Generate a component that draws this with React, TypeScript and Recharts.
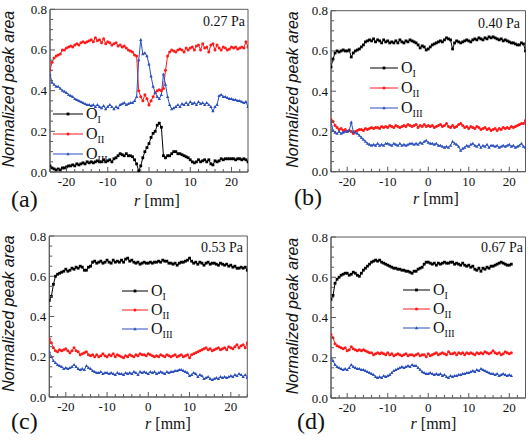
import React from 'react';
import { LineChart, Line, XAxis, YAxis, ReferenceArea } from 'recharts';

// r positions [mm]
const R = [
  -24, -23.5, -23, -22.5, -22, -21.5, -21, -20.5, -20, -19.5,
  -19, -18.5, -18, -17.5, -17, -16.5, -16, -15.5, -15, -14.5,
  -14, -13.5, -13, -12.5, -12, -11.5, -11, -10.5, -10, -9.5,
  -9, -8.5, -8, -7.5, -7, -6.5, -6, -5.5, -5, -4.5,
  -4, -3.5, -3, -2.5, -2, -1.5, -1, -0.5, 0, 0.5,
  1, 1.5, 2, 2.5, 3, 3.5, 4, 4.5, 5, 5.5,
  6, 6.5, 7, 7.5, 8, 8.5, 9, 9.5, 10, 10.5,
  11, 11.5, 12, 12.5, 13, 13.5, 14, 14.5, 15, 15.5,
  16, 16.5, 17, 17.5, 18, 18.5, 19, 19.5, 20, 20.5,
  21, 21.5, 22, 22.5, 23, 23.5, 24,
];
const R_D = R.slice(0, 90);

const X_TICKS = [-24, -22, -20, -18, -16, -14, -12, -10, -8, -6, -4, -2, 0, 2, 4, 6, 8, 10, 12, 14, 16, 18, 20, 22, 24];
const Y_TICKS = [0, 0.05, 0.1, 0.15, 0.2, 0.25, 0.3, 0.35, 0.4, 0.45, 0.5, 0.55, 0.6, 0.65, 0.7, 0.75, 0.8];

// (a) 0.27 Pa
const A_O1 = [
  0.03, 0.02, 0.015, 0.01, 0.015, 0.01, 0.02, 0.02, 0.025, 0.03,
  0.03, 0.035, 0.03, 0.04, 0.035, 0.04, 0.045, 0.04, 0.05, 0.045,
  0.05, 0.045, 0.05, 0.055, 0.05, 0.05, 0.06, 0.05, 0.055, 0.06,
  0.05, 0.065, 0.07, 0.08, 0.09, 0.085, 0.08, 0.09, 0.08, 0.08,
  0.075, 0.06, 0.04, 0.005, 0.03, 0.07, 0.10, 0.12, 0.14, 0.17,
  0.19, 0.20, 0.23, 0.24, 0.22, 0.08, 0.07, 0.08, 0.08, 0.09,
  0.10, 0.10, 0.09, 0.09, 0.085, 0.08, 0.075, 0.07, 0.06, 0.05,
  0.045, 0.05, 0.06, 0.05, 0.055, 0.06, 0.05, 0.06, 0.04, 0.035,
  0.055, 0.05, 0.055, 0.065, 0.06, 0.065, 0.065, 0.065, 0.065, 0.065,
  0.06, 0.065, 0.065, 0.06, 0.065, 0.06, 0.05,
];
const A_O2 = [
  0.50, 0.54, 0.56, 0.57, 0.575, 0.58, 0.60, 0.60, 0.61, 0.615,
  0.62, 0.615, 0.625, 0.63, 0.625, 0.635, 0.64, 0.635, 0.64, 0.645,
  0.65, 0.64, 0.66, 0.645, 0.65, 0.635, 0.655, 0.63, 0.64, 0.635,
  0.625, 0.63, 0.635, 0.62, 0.625, 0.615, 0.62, 0.61, 0.60, 0.595,
  0.59, 0.575, 0.57, 0.40, 0.37, 0.35, 0.38, 0.36, 0.33, 0.35,
  0.37, 0.39, 0.40, 0.405, 0.40, 0.41, 0.50, 0.57, 0.59, 0.60,
  0.595, 0.59, 0.60, 0.605, 0.60, 0.59, 0.61, 0.60, 0.61, 0.615,
  0.60, 0.62, 0.625, 0.60, 0.63, 0.61, 0.615, 0.59, 0.625, 0.63,
  0.60, 0.625, 0.61, 0.60, 0.615, 0.61, 0.60, 0.605, 0.615, 0.61,
  0.615, 0.605, 0.61, 0.615, 0.61, 0.64, 0.615,
];
const A_O3 = [
  0.48, 0.44, 0.43, 0.42, 0.42, 0.41, 0.40, 0.395, 0.39, 0.38,
  0.375, 0.37, 0.36, 0.355, 0.35, 0.345, 0.34, 0.335, 0.33, 0.33,
  0.325, 0.33, 0.32, 0.33, 0.32, 0.315, 0.325, 0.31, 0.32, 0.33,
  0.32, 0.31, 0.32, 0.315, 0.33, 0.335, 0.34, 0.33, 0.335, 0.34,
  0.34, 0.35, 0.37, 0.55, 0.65, 0.58, 0.585, 0.57, 0.53, 0.47,
  0.42, 0.39, 0.37, 0.36, 0.38, 0.48, 0.43, 0.37, 0.33, 0.31,
  0.315, 0.32, 0.33, 0.32, 0.335, 0.33, 0.34, 0.33, 0.345, 0.335,
  0.34, 0.33, 0.345, 0.335, 0.34, 0.33, 0.34, 0.33, 0.32, 0.30,
  0.32, 0.33, 0.375, 0.38, 0.37, 0.37, 0.365, 0.36, 0.36, 0.355,
  0.355, 0.35, 0.35, 0.345, 0.34, 0.345, 0.32,
];

// (b) 0.40 Pa
const B_O1 = [
  0.52, 0.56, 0.59, 0.60, 0.595, 0.60, 0.605, 0.60, 0.60, 0.605,
  0.57, 0.59, 0.60, 0.605, 0.61, 0.62, 0.63, 0.645, 0.65, 0.655,
  0.65, 0.66, 0.645, 0.655, 0.65, 0.64, 0.655, 0.645, 0.65, 0.64,
  0.645, 0.64, 0.65, 0.64, 0.655, 0.645, 0.64, 0.65, 0.645, 0.655,
  0.65, 0.645, 0.64, 0.63, 0.615, 0.625, 0.62, 0.605, 0.61, 0.62,
  0.63, 0.635, 0.64, 0.645, 0.65, 0.645, 0.655, 0.665, 0.66, 0.655,
  0.61, 0.64, 0.65, 0.645, 0.64, 0.645, 0.65, 0.655, 0.65, 0.645,
  0.655, 0.66, 0.655, 0.665, 0.66, 0.655, 0.665, 0.66, 0.67, 0.665,
  0.67, 0.665, 0.66, 0.655, 0.66, 0.65, 0.655, 0.65, 0.645, 0.64,
  0.64, 0.635, 0.63, 0.63, 0.64, 0.635, 0.60,
];
const B_O2 = [
  0.26, 0.25, 0.23, 0.22, 0.21, 0.215, 0.205, 0.21, 0.20, 0.205,
  0.20, 0.19, 0.20, 0.205, 0.21, 0.21, 0.205, 0.215, 0.21, 0.215,
  0.22, 0.215, 0.22, 0.22, 0.215, 0.225, 0.22, 0.225, 0.22, 0.23,
  0.225, 0.22, 0.23, 0.225, 0.22, 0.225, 0.23, 0.225, 0.235, 0.23,
  0.225, 0.23, 0.235, 0.22, 0.23, 0.225, 0.235, 0.225, 0.23, 0.225,
  0.23, 0.22, 0.225, 0.23, 0.235, 0.225, 0.23, 0.24, 0.225, 0.22,
  0.23, 0.22, 0.225, 0.235, 0.24, 0.23, 0.22, 0.225, 0.215, 0.225,
  0.22, 0.215, 0.225, 0.22, 0.21, 0.215, 0.22, 0.21, 0.215, 0.205,
  0.21, 0.215, 0.205, 0.215, 0.21, 0.22, 0.215, 0.22, 0.215, 0.225,
  0.22, 0.225, 0.23, 0.235, 0.24, 0.24, 0.255,
];
const B_O3 = [
  0.25, 0.205, 0.195, 0.19, 0.20, 0.19, 0.195, 0.20, 0.20, 0.205,
  0.245, 0.20, 0.195, 0.19, 0.18, 0.17, 0.16, 0.15, 0.14, 0.135,
  0.13, 0.135, 0.13, 0.14, 0.13, 0.135, 0.13, 0.14, 0.14, 0.135,
  0.13, 0.14, 0.135, 0.13, 0.14, 0.13, 0.135, 0.13, 0.135, 0.14,
  0.14, 0.135, 0.14, 0.135, 0.145, 0.14, 0.15, 0.155, 0.145, 0.14,
  0.14, 0.135, 0.14, 0.13, 0.13, 0.125, 0.12, 0.125, 0.12, 0.13,
  0.15, 0.14, 0.135, 0.125, 0.105, 0.115, 0.12, 0.13, 0.125, 0.135,
  0.14, 0.13, 0.125, 0.135, 0.12, 0.13, 0.125, 0.135, 0.12, 0.13,
  0.13, 0.125, 0.13, 0.12, 0.125, 0.13, 0.125, 0.13, 0.135, 0.125,
  0.13, 0.12, 0.125, 0.13, 0.14, 0.125, 0.12,
];

// (c) 0.53 Pa
const C_O1 = [
  0.48, 0.50, 0.56, 0.60, 0.61, 0.615, 0.62, 0.625, 0.635, 0.625,
  0.63, 0.64, 0.635, 0.645, 0.64, 0.65, 0.645, 0.63, 0.63, 0.645,
  0.65, 0.67, 0.675, 0.665, 0.67, 0.675, 0.665, 0.67, 0.68, 0.67,
  0.665, 0.68, 0.67, 0.675, 0.67, 0.68, 0.67, 0.685, 0.69, 0.675,
  0.68, 0.67, 0.665, 0.67, 0.66, 0.665, 0.67, 0.665, 0.665, 0.67,
  0.665, 0.67, 0.67, 0.675, 0.67, 0.68, 0.675, 0.675, 0.665, 0.665,
  0.66, 0.665, 0.655, 0.665, 0.67, 0.67, 0.675, 0.68, 0.69, 0.675,
  0.665, 0.67, 0.66, 0.67, 0.665, 0.655, 0.665, 0.67, 0.66, 0.665,
  0.665, 0.66, 0.655, 0.665, 0.66, 0.655, 0.66, 0.65, 0.655, 0.645,
  0.65, 0.64, 0.64, 0.645, 0.64, 0.645, 0.63,
];
const C_O2 = [
  0.29, 0.27, 0.245, 0.23, 0.225, 0.235, 0.23, 0.235, 0.24, 0.23,
  0.22, 0.23, 0.245, 0.23, 0.225, 0.21, 0.215, 0.22, 0.225, 0.21,
  0.205, 0.21, 0.20, 0.21, 0.20, 0.205, 0.215, 0.205, 0.20, 0.21,
  0.205, 0.215, 0.20, 0.21, 0.205, 0.20, 0.195, 0.205, 0.20, 0.21,
  0.205, 0.20, 0.21, 0.205, 0.215, 0.21, 0.21, 0.205, 0.215, 0.21,
  0.205, 0.20, 0.205, 0.20, 0.21, 0.205, 0.20, 0.21, 0.205, 0.20,
  0.205, 0.21, 0.20, 0.205, 0.21, 0.20, 0.205, 0.21, 0.195, 0.21,
  0.215, 0.22, 0.225, 0.23, 0.235, 0.24, 0.245, 0.235, 0.24, 0.23,
  0.235, 0.24, 0.245, 0.235, 0.24, 0.245, 0.235, 0.25, 0.245, 0.24,
  0.25, 0.26, 0.245, 0.255, 0.26, 0.245, 0.27,
];
const C_O3 = [
  0.225, 0.20, 0.18, 0.17, 0.16, 0.155, 0.15, 0.14, 0.145, 0.14,
  0.145, 0.15, 0.16, 0.15, 0.14, 0.135, 0.14, 0.135, 0.155, 0.145,
  0.14, 0.13, 0.125, 0.12, 0.12, 0.125, 0.115, 0.12, 0.12, 0.115,
  0.12, 0.115, 0.11, 0.12, 0.115, 0.115, 0.11, 0.12, 0.115, 0.12,
  0.115, 0.125, 0.12, 0.11, 0.125, 0.12, 0.125, 0.12, 0.115, 0.125,
  0.12, 0.125, 0.115, 0.12, 0.125, 0.12, 0.115, 0.125, 0.12, 0.125,
  0.125, 0.13, 0.13, 0.135, 0.135, 0.13, 0.125, 0.12, 0.105, 0.11,
  0.12, 0.115, 0.10, 0.11, 0.105, 0.09, 0.095, 0.10, 0.09, 0.085,
  0.09, 0.095, 0.09, 0.10, 0.095, 0.10, 0.095, 0.10, 0.105, 0.10,
  0.11, 0.105, 0.115, 0.11, 0.10, 0.11, 0.095,
];

// (d) 0.67 Pa
const D_O1 = [
  0.49, 0.51, 0.57, 0.59, 0.60, 0.61, 0.615, 0.62, 0.62, 0.61,
  0.615, 0.625, 0.62, 0.61, 0.605, 0.62, 0.635, 0.645, 0.655, 0.665,
  0.675, 0.68, 0.685, 0.68, 0.685, 0.675, 0.67, 0.665, 0.66, 0.655,
  0.65, 0.645, 0.645, 0.64, 0.64, 0.635, 0.635, 0.63, 0.63, 0.625,
  0.62, 0.63, 0.63, 0.64, 0.645, 0.65, 0.665, 0.675, 0.675, 0.67,
  0.665, 0.67, 0.66, 0.67, 0.665, 0.67, 0.675, 0.67, 0.67, 0.675,
  0.675, 0.665, 0.67, 0.665, 0.66, 0.67, 0.66, 0.655, 0.66, 0.65,
  0.655, 0.64, 0.635, 0.645, 0.63, 0.645, 0.64, 0.65, 0.645, 0.655,
  0.655, 0.66, 0.665, 0.67, 0.675, 0.67, 0.665, 0.66, 0.66, 0.665,
];
const D_O2 = [
  0.315, 0.30, 0.27, 0.26, 0.255, 0.25, 0.245, 0.25, 0.235, 0.24,
  0.255, 0.245, 0.24, 0.235, 0.24, 0.235, 0.24, 0.235, 0.23, 0.225,
  0.225, 0.215, 0.22, 0.225, 0.22, 0.225, 0.22, 0.215, 0.225, 0.215,
  0.22, 0.21, 0.215, 0.22, 0.215, 0.21, 0.215, 0.22, 0.21, 0.215,
  0.215, 0.21, 0.215, 0.22, 0.21, 0.215, 0.215, 0.205, 0.22, 0.21,
  0.215, 0.22, 0.225, 0.215, 0.22, 0.225, 0.22, 0.215, 0.23, 0.22,
  0.22, 0.225, 0.215, 0.225, 0.22, 0.225, 0.215, 0.225, 0.22, 0.225,
  0.22, 0.215, 0.225, 0.22, 0.225, 0.22, 0.23, 0.225, 0.22, 0.225,
  0.235, 0.225, 0.22, 0.225, 0.215, 0.22, 0.23, 0.225, 0.22, 0.225,
];
const D_O3 = [
  0.20, 0.185, 0.165, 0.155, 0.15, 0.145, 0.14, 0.145, 0.14, 0.15,
  0.165, 0.155, 0.15, 0.145, 0.145, 0.14, 0.14, 0.135, 0.13, 0.125,
  0.12, 0.115, 0.105, 0.10, 0.105, 0.10, 0.11, 0.105, 0.11, 0.115,
  0.125, 0.135, 0.14, 0.145, 0.15, 0.155, 0.15, 0.155, 0.16, 0.155,
  0.165, 0.16, 0.16, 0.15, 0.14, 0.13, 0.125, 0.12, 0.12, 0.125,
  0.12, 0.115, 0.12, 0.115, 0.12, 0.11, 0.115, 0.105, 0.10, 0.11,
  0.105, 0.11, 0.11, 0.115, 0.115, 0.12, 0.12, 0.125, 0.125, 0.13,
  0.135, 0.13, 0.14, 0.135, 0.145, 0.14, 0.135, 0.13, 0.125, 0.12,
  0.12, 0.115, 0.12, 0.11, 0.115, 0.12, 0.115, 0.11, 0.115, 0.11,
];

const SERIES_NAMES = ['I', 'II', 'III'];
const COLORS = ['#000000', '#ff1a1a', '#2b4fbd'];

const SERIF = 'Liberation Serif';
const SANS = 'Liberation Sans';
const FRAME = '#5a5a5a';

type PanelCfg = {
  ox: number; oy: number;
  left: number; right: number; top: number; bottom: number;
  r: number[]; o1: number[]; o2: number[]; o3: number[];
  pressure: string; pX: number; pY: number;
  tag: string; tagX: number; tagY: number;
  rX: number; rY: number;
  yLX: number; yLY: number;
  lx1: number; lx2: number; ltx: number; lys: number[];
};

const PANELS: PanelCfg[] = [
  { ox: 0, oy: 0, left: 50, right: 248, top: 9.3, bottom: 172, r: R, o1: A_O1, o2: A_O2, o3: A_O3,
    pressure: '0.27 Pa', pX: 245, pY: 26, tag: '(a)', tagX: 11, tagY: 207, rX: 157, rY: 206, yLX: 8.5, yLY: 89,
    lx1: 53, lx2: 83, ltx: 86, lys: [114, 134, 154] },
  { ox: 265, oy: 0, left: 66, right: 260.5, top: 10.7, bottom: 171.7, r: R, o1: B_O1, o2: B_O2, o3: B_O3,
    pressure: '0.40 Pa', pX: 255, pY: 28, tag: '(b)', tagX: 29, tagY: 205, rX: 171, rY: 204, yLX: 27, yLY: 89.5,
    lx1: 105, lx2: 133, ltx: 136, lys: [68, 88, 108] },
  { ox: 0, oy: 221, left: 49.3, right: 247.3, top: 15, bottom: 176, r: R, o1: C_O1, o2: C_O2, o3: C_O3,
    pressure: '0.53 Pa', pX: 243, pY: 31, tag: '(c)', tagX: 11, tagY: 208, rX: 168, rY: 208, yLX: 8.5, yLY: 92.5,
    lx1: 122, lx2: 148, ltx: 151, lys: [70, 89, 108] },
  { ox: 265, oy: 221, left: 66, right: 260.5, top: 16, bottom: 177, r: R_D, o1: D_O1, o2: D_O2, o3: D_O3,
    pressure: '0.67 Pa', pX: 258, pY: 31, tag: '(d)', tagX: 32, tagY: 208, rX: 168.5, rY: 208, yLX: 27, yLY: 95,
    lx1: 138, lx2: 165, ltx: 168, lys: [69, 88, 107] },
];

const Marker = ({ kind, cx, cy }: { kind: number; cx: number; cy: number }) => {
  if (kind === 0) return <rect x={cx - 1.4} y={cy - 1.4} width={2.8} height={2.8} fill={COLORS[0]} />;
  if (kind === 1) return <circle cx={cx} cy={cy} r={1.5} fill={COLORS[1]} />;
  return <path d={`M${cx},${cy - 1.8}L${cx + 1.7},${cy + 1.2}L${cx - 1.7},${cy + 1.2}Z`} fill={COLORS[2]} />;
};

const makeDot = (kind: number) => (p: any) => {
  if (p.cx == null || p.cy == null) return <g key={p.index} />;
  return (
    <g key={p.index}>
      <Marker kind={kind} cx={p.cx} cy={p.cy} />
    </g>
  );
};

const XTick = (p: any) => {
  const v = p.payload.value;
  const major = Math.abs(v / 10 - Math.round(v / 10)) < 1e-6;
  return (
    <g>
      <line x1={p.x} y1={p.y} x2={p.x} y2={p.y - (major ? 5 : 3)} stroke={FRAME} strokeWidth={1} />
      {major && (
        <text x={p.x} y={p.y + 14} textAnchor="middle" fontFamily={SERIF} fontSize={13} fill="#111">
          {String(v)}
        </text>
      )}
    </g>
  );
};

const YTick = (p: any) => {
  const v = p.payload.value;
  const major = Math.abs(v / 0.2 - Math.round(v / 0.2)) < 1e-6;
  return (
    <g>
      <line x1={p.x} y1={p.y} x2={p.x + (major ? 5 : 3)} y2={p.y} stroke={FRAME} strokeWidth={1} />
      {major && (
        <text x={p.x - 3} y={p.y + 4.5} textAnchor="end" fontFamily={SERIF} fontSize={13} fill="#111">
          {v.toFixed(1)}
        </text>
      )}
    </g>
  );
};

const Panel = ({ cfg }: { cfg: PanelCfg }) => {
  const data = cfg.r.map((r, i) => ({ r, o1: cfg.o1[i], o2: cfg.o2[i], o3: cfg.o3[i] }));
  const W = 265;
  const H = 221;
  const margin = { left: cfg.left - 30, right: W - cfg.right, top: cfg.top, bottom: H - cfg.bottom - 30 };
  const keys = ['o1', 'o2', 'o3'];
  return (
    <div style={{ position: 'absolute', left: cfg.ox, top: cfg.oy, width: W, height: H }}>
      <LineChart width={W} height={H} data={data} margin={margin}>
        <XAxis
          type="number"
          dataKey="r"
          domain={[-24, 24]}
          ticks={X_TICKS}
          interval={0}
          allowDataOverflow
          height={30}
          tickSize={0}
          tickMargin={0}
          tickLine={false}
          axisLine={{ stroke: FRAME }}
          tick={<XTick />}
        />
        <YAxis
          type="number"
          domain={[0, 0.8]}
          ticks={Y_TICKS}
          interval={0}
          allowDataOverflow
          width={30}
          tickSize={0}
          tickMargin={0}
          tickLine={false}
          axisLine={{ stroke: FRAME }}
          tick={<YTick />}
        />
        <ReferenceArea x1={-24} x2={24} y1={0} y2={0.8} fill="none" fillOpacity={0} stroke={FRAME} strokeWidth={1} ifOverflow="visible" />
        {keys.map((k, i) => (
          <Line
            key={k}
            type="linear"
            dataKey={k}
            stroke={COLORS[i]}
            strokeWidth={1}
            dot={makeDot(i)}
            activeDot={false}
            isAnimationActive={false}
          />
        ))}
      </LineChart>
      <svg width={W} height={H} style={{ position: 'absolute', left: 0, top: 0, pointerEvents: 'none', overflow: 'visible' }}>
        <text
          transform={`translate(${cfg.yLX},${cfg.yLY}) rotate(-90)`}
          textAnchor="middle"
          dominantBaseline="central"
          fontFamily={SANS}
          fontStyle="italic"
          fontSize={16}
          fill="#111"
        >
          Normalized peak area
        </text>
        <text x={cfg.rX} y={cfg.rY} textAnchor="middle" fontFamily={SERIF} fontSize={16} fill="#111">
          <tspan fontStyle="italic">r</tspan> [mm]
        </text>
        <text x={cfg.tagX} y={cfg.tagY} fontFamily={SERIF} fontSize={24} fill="#111">
          {cfg.tag}
        </text>
        <text x={cfg.pX} y={cfg.pY} textAnchor="end" fontFamily={SERIF} fontSize={14} fill="#111">
          {cfg.pressure}
        </text>
        {SERIES_NAMES.map((n, i) => {
          const y = cfg.lys[i];
          return (
            <g key={n}>
              <line x1={cfg.lx1} y1={y} x2={cfg.lx2} y2={y} stroke={COLORS[i]} strokeWidth={1} />
              <Marker kind={i} cx={(cfg.lx1 + cfg.lx2) / 2} cy={y} />
              <text x={cfg.ltx} y={y + 5} fontFamily={SERIF} fontSize={16} fill="#111">
                O
                <tspan fontSize={10} dy={4}>
                  {n}
                </tspan>
              </text>
            </g>
          );
        })}
      </svg>
    </div>
  );
}

export default function App() {
  return (
    <div style={{ position: 'absolute', left: 0, top: 0, width: 530, height: 442, background: '#fff', overflow: 'hidden' }}>
      {PANELS.map((p) => (
        <Panel key={p.tag} cfg={p} />
      ))}
    </div>
  );
}
